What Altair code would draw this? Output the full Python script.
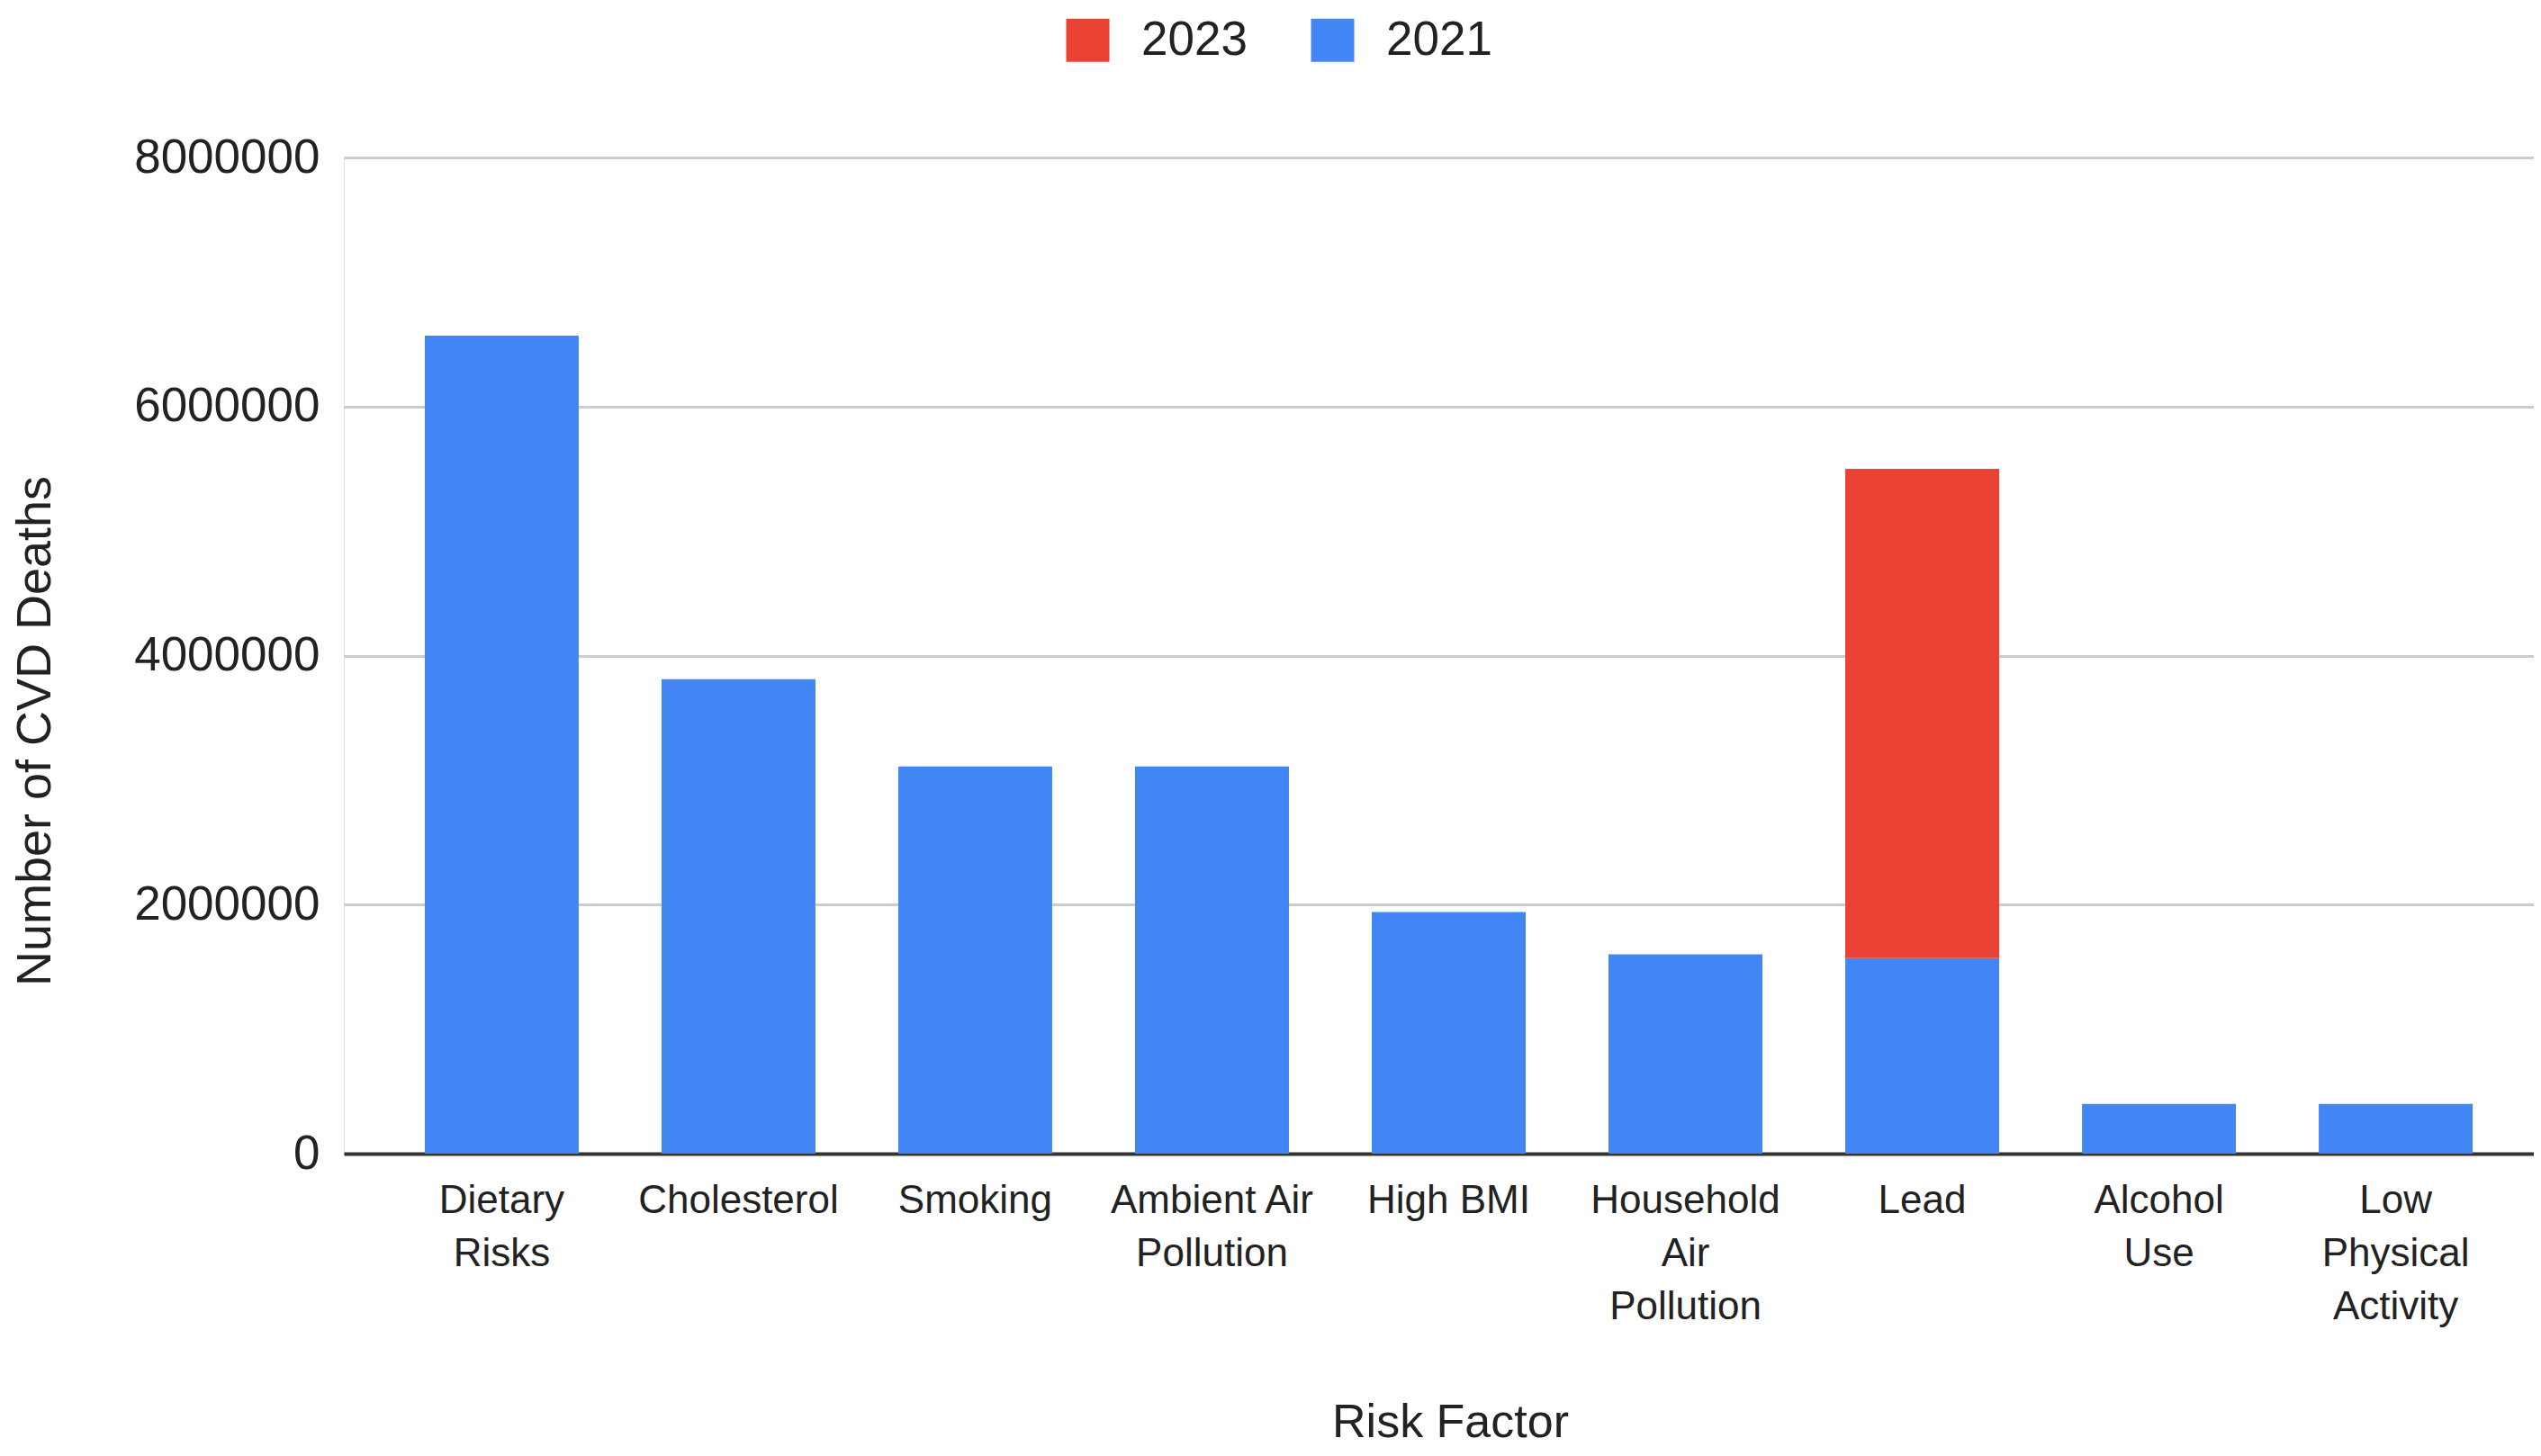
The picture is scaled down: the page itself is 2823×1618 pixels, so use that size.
import altair as alt
import pandas as pd
import json

categories = ["Dietary Risks", "Cholesterol", "Smoking", "Ambient Air Pollution",
              "High BMI", "Household Air Pollution", "Lead", "Alcohol Use",
              "Low Physical Activity"]
label_lines = [["Dietary", "Risks"], ["Cholesterol"], ["Smoking"], ["Ambient Air", "Pollution"],
               ["High BMI"], ["Household", "Air", "Pollution"], ["Lead"], ["Alcohol", "Use"],
               ["Low", "Physical", "Activity"]]
deaths_2021 = [6570000, 3810000, 3110000, 3110000, 1940000, 1600000, 1570000, 400000, 400000]
deaths_2023 = [None, None, None, None, None, None, 3930000, None, None]
series = ["2023", "2021"]
colors = ["#EA4335", "#4285F4"]
y_ticks = [0, 2000000, 4000000, 6000000, 8000000]

rows = []
for c, v in zip(categories, deaths_2021):
    rows.append({"Risk Factor": c, "Year": "2021", "Deaths": v, "stack": 0})
for c, v in zip(categories, deaths_2023):
    if v:
        rows.append({"Risk Factor": c, "Year": "2023", "Deaths": v, "stack": 1})
df = pd.DataFrame(rows)

lookup = {c: l for c, l in zip(categories, label_lines)}
label_expr = json.dumps(lookup) + "[datum.label]"

FONT = "Liberation Sans"

chart = alt.Chart(df).mark_bar().encode(
    x=alt.X("Risk Factor:N", sort=categories,
            scale=alt.Scale(paddingInner=0.35, paddingOuter=0.342, range=[0, 2455]),
            axis=alt.Axis(title="Risk Factor", labelAngle=0, labelExpr=label_expr,
                          labelFontSize=44, labelLineHeight=59, labelBaseline="top",
                          labelPadding=30, labelLimit=0, ticks=False, tickSize=0,
                          domainColor="#333333", domainWidth=4,
                          labelColor="#222222", labelFont=FONT,
                          titleFont=FONT, titleFontSize=52, titleFontWeight="normal",
                          titleColor="#222222", titleX=1229, titleY=314,
                          titleAlign="center", titleBaseline="alphabetic")),
    y=alt.Y("Deaths:Q", stack="zero",
            scale=alt.Scale(domain=[0, 8000000], nice=False),
            axis=alt.Axis(title="Number of CVD Deaths", values=y_ticks, format="d",
                          labelFontSize=53, labelPadding=27, labelLimit=0,
                          ticks=False, tickSize=0,
                          domain=False, gridColor="#cccccc", gridWidth=3,
                          labelColor="#222222", labelFont=FONT,
                          titleFont=FONT, titleFontSize=54, titleFontWeight="normal",
                          titleColor="#222222", titleX=-343, titleY=637,
                          titleAngle=-90, titleAlign="center", titleBaseline="middle")),
    color=alt.Color("Year:N", scale=alt.Scale(domain=series, range=colors),
                    legend=alt.Legend(title=None, orient="none", direction="horizontal",
                                      legendX=800, legendY=-157,
                                      symbolType="square", symbolSize=2304,
                                      symbolStrokeWidth=0, symbolOpacity=1,
                                      labelFontSize=53, labelFont=FONT,
                                      labelColor="#222222", labelOffset=33,
                                      columnPadding=68, padding=0)),
    order=alt.Order("stack:Q", sort="ascending"),
).properties(
    width=2433, height=1107,
    autosize=alt.AutoSizeParams(type="none"),
    padding={"left": 374, "top": 167, "right": 0, "bottom": 328},
).configure_view(stroke=None).configure(background="white")

chart.save("out.html", embed_options={"renderer": "svg", "actions": False})
